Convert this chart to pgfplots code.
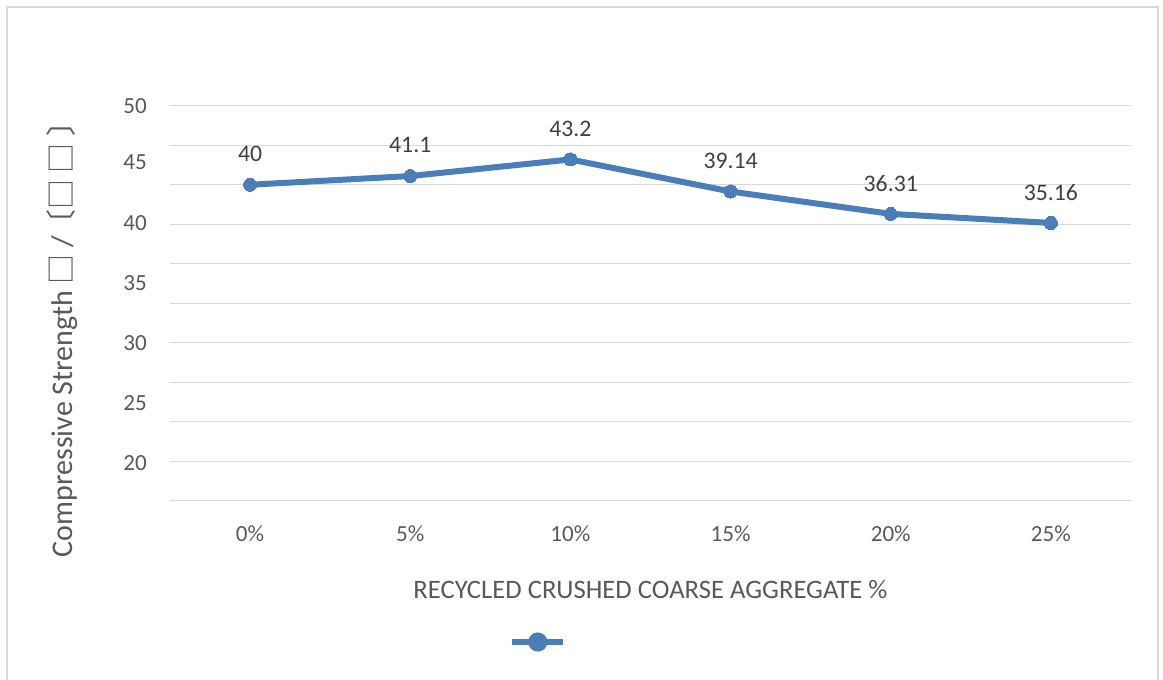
\documentclass[border=0pt]{standalone}
\usepackage{pgfplots}
\pgfplotsset{compat=1.18}
\usepackage{fontspec}
\setmainfont{Carlito}
\newfontfamily\cjk{Noto Sans CJK SC}
\definecolor{txt}{HTML}{595959}
\definecolor{dtxt}{HTML}{404040}
\definecolor{grd}{HTML}{D9D9D9}
\definecolor{ln}{HTML}{4A7EBB}
\begin{document}
\begin{tikzpicture}[x=1pt,y=1pt]
\useasboundingbox (0,0) rectangle (872.25,509.25);
\draw[grd, line width=1.1pt] (5.25,-10) rectangle (868.5,504);
\begin{axis}[
  at={(127.5pt,133.7pt)}, anchor=south west,
  scale only axis, width=720.75pt, height=296.25pt,
  xmin=-0.5, xmax=5.5, ymin=0, ymax=50,
  axis line style={draw=none},
  xtick={0,...,5}, xticklabels={0\%,5\%,10\%,15\%,20\%,25\%},
  ytick={0,5,...,50}, yticklabels={},
  ymajorgrids, grid style={grd, line width=1.1pt},
  major tick length=0pt,
  extra y ticks={49.9,42.8,35.2,27.6,20.0,12.4,4.8},
  extra y tick labels={50,45,40,35,30,25,20},
  extra y tick style={grid=none},
  tick label style={font=\fontsize{17.3}{20}\selectfont, text=txt},
  yticklabel style={anchor=east, inner sep=0pt, xshift=-17.25pt},
  xticklabel style={anchor=center, yshift=-25pt},
  xlabel={RECYCLED CRUSHED COARSE AGGREGATE \%},
  xlabel style={at={(axis description cs:0.5,-0.2235)}, anchor=center, font=\fontsize{20}{24}\selectfont, text=txt},
  ylabel={Compressive Strength {\cjk □} / \kern-0.35em{\cjk 〔□ □ 〕}},
  ylabel style={at={(axis description cs:-0.1124,0.428)}, anchor=center, font=\fontsize{22.5}{27}\selectfont, text=txt},
  legend style={at={(axis description cs:0.3834,-0.3577)}, anchor=center, draw=none, fill=none, inner sep=0pt, nodes={inner sep=0pt}},
  legend image code/.code={\draw[ln, line width=4.5pt] (-19pt,0) -- (19pt,0); \fill[ln] (0,0) circle (4.9pt);},
]
\addplot[ln, line width=4.5pt, mark=*, mark size=4.9pt, mark options={fill=ln, draw=ln, line width=0pt},
  nodes near coords, point meta=explicit symbolic,
  nodes near coords style={anchor=center, yshift=23pt, text=dtxt, font=\fontsize{17.8}{20}\selectfont}]
  table[meta=label] {
x y label
0 40 40
1 41.1 41.1
2 43.2 43.2
3 39.14 39.14
4 36.31 36.31
5 35.16 35.16
};
\addlegendentry{\mbox{}}
\end{axis}
\end{tikzpicture}
\end{document}
